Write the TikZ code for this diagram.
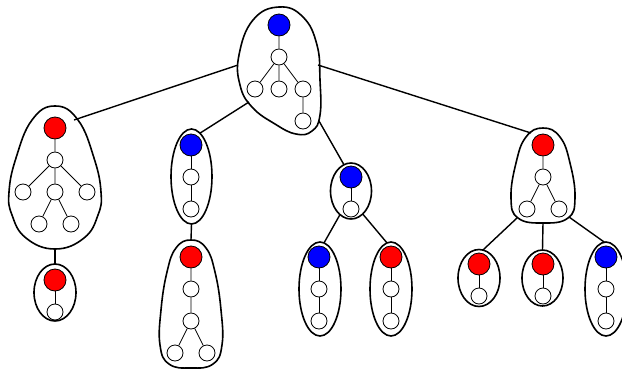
\documentclass[tikz,border=0pt]{standalone}
\usetikzlibrary{shapes.geometric}
\begin{document}
\begin{tikzpicture}[x=1pt,y=-1pt,
  wnode/.style={circle,draw,line width=0.8pt,minimum size=16pt,inner sep=0pt,fill=white},
  rnode/.style={circle,draw,line width=0.8pt,minimum size=22pt,inner sep=0pt,fill=red},
  bnode/.style={circle,draw,line width=0.8pt,minimum size=22pt,inner sep=0pt,fill=blue},
  blob/.style={draw,line width=1.6pt},
  oval/.style={ellipse,draw,line width=1.6pt,inner sep=0pt,outer sep=0pt},
  link/.style={line width=1.4pt},
  twig/.style={line width=0.8pt}]
\useasboundingbox (0,0) rectangle (622,370);
\clip (0,0) rectangle (622,370);

% blobs
\draw[blob] plot[smooth cycle,tension=0.75] coordinates {(279,7) (303,17) (317,45) (320,80) (320,115) (312,131) (296,134) (275,124) (252,107) (240,85) (239,55) (253,20)};
\draw[blob] plot[smooth cycle,tension=0.75] coordinates {(55,106) (78,120) (94,158) (101,192) (98,215) (84,238) (55,249) (26,238) (12,215) (9,192) (16,158) (32,120)};
\draw[blob] plot[smooth cycle,tension=0.75] coordinates {(191,240) (206,248) (215,272) (221,310) (222,345) (213,364) (191,368) (169,364) (160,345) (161,310) (167,272) (176,248)};
\draw[blob] plot[smooth cycle,tension=0.75] coordinates {(543,128) (560,137) (570,163) (575,198) (568,218) (543,223) (518,218) (511,198) (516,163) (526,137)};

\coordinate (ta) at (238,65);
\coordinate (tb) at (249,102);
\coordinate (tc) at (319,121);
\coordinate (td) at (318,65);
\coordinate (la) at (74,120);
\coordinate (lb) at (55,249);
\coordinate (ma) at (191,240);
\coordinate (ra) at (531,133);
\coordinate (rb) at (517,218);
\coordinate (rc) at (543,223);
\coordinate (rd) at (569,217);

% ellipses
\node[oval,minimum width=42pt,minimum height=57pt] (E1) at (55,292.5) {};
\node[oval,minimum width=41pt,minimum height=95pt] (E2) at (191.5,176.5) {};
\node[oval,minimum width=41pt,minimum height=56pt] (E3) at (351,191) {};
\node[oval,minimum width=42pt,minimum height=94pt] (E4) at (320,289) {};
\node[oval,minimum width=42pt,minimum height=94pt] (E5) at (391,289) {};
\node[oval,minimum width=42pt,minimum height=57pt] (E6) at (479,278) {};
\node[oval,minimum width=41pt,minimum height=56pt] (E7) at (542.5,278) {};
\node[oval,minimum width=42pt,minimum height=94pt] (E8) at (606,289) {};

% links between groups
\draw[link] (ta) -- (la);
\draw[link] (tb) -- (E2.79);
\draw[link] (tc) -- (E3.105);
\draw[link] (td) -- (ra);
\draw[link] (lb) -- (E1.north);
\draw[link] (E2.south) -- (ma);
\draw[link] (E3.245) -- (E4.85);
\draw[link] (E3.297) -- (E5.95);
\draw[link] (rb) -- (E6.82);
\draw[link] (rc) -- (E7.north);
\draw[link] (rd) -- (E8.92);

% top group
\node[bnode] (t0) at (279,25) {};
\node[wnode] (t1) at (279,57) {};
\node[wnode] (t2) at (255,89) {};
\node[wnode] (t3) at (279,89) {};
\node[wnode] (t4) at (303,89) {};
\node[wnode] (t5) at (303,121) {};
\draw[twig] (t0)--(t1) (t1)--(t2) (t1)--(t3) (t1)--(t4) (t4)--(t5);

% left group
\node[rnode] (l0) at (55,128) {};
\node[wnode] (l1) at (55,160) {};
\node[wnode] (l2) at (23,192) {};
\node[wnode] (l3) at (55,192) {};
\node[wnode] (l4) at (87,192) {};
\node[wnode] (l5) at (39,224) {};
\node[wnode] (l6) at (71,224) {};
\draw[twig] (l0)--(l1) (l1)--(l2) (l1)--(l3) (l1)--(l4) (l3)--(l5) (l3)--(l6);

% E1
\node[rnode] (a0) at (55,280) {};
\node[wnode] (a1) at (55,312) {};
\draw[twig] (a0)--(a1);

% E2
\node[bnode] (b0) at (191,145) {};
\node[wnode] (b1) at (191,177) {};
\node[wnode] (b2) at (191,209) {};
\draw[twig] (b0)--(b1) (b1)--(b2);

% lower middle-left group
\node[rnode] (m0) at (191,257) {};
\node[wnode] (m1) at (191,289) {};
\node[wnode] (m2) at (191,321) {};
\node[wnode] (m3) at (175,353) {};
\node[wnode] (m4) at (207,353) {};
\draw[twig] (m0)--(m1) (m1)--(m2) (m2)--(m3) (m2)--(m4);

% E3
\node[bnode] (c0) at (351,177) {};
\node[wnode] (c1) at (351,209) {};
\draw[twig] (c0)--(c1);

% E4
\node[bnode] (d0) at (319,257) {};
\node[wnode] (d1) at (319,289) {};
\node[wnode] (d2) at (319,321) {};
\draw[twig] (d0)--(d1) (d1)--(d2);

% E5
\node[rnode] (e0) at (391,257) {};
\node[wnode] (e1) at (391,289) {};
\node[wnode] (e2) at (391,321) {};
\draw[twig] (e0)--(e1) (e1)--(e2);

% right group
\node[rnode] (r0) at (543,145) {};
\node[wnode] (r1) at (543,177) {};
\node[wnode] (r2) at (527,209) {};
\node[wnode] (r3) at (559,209) {};
\draw[twig] (r0)--(r1) (r1)--(r2) (r1)--(r3);

% E6
\node[rnode] (f0) at (479,264) {};
\node[wnode] (f1) at (479,296) {};
\draw[twig] (f0)--(f1);

% E7
\node[rnode] (g0) at (543,264) {};
\node[wnode] (g1) at (543,296) {};
\draw[twig] (g0)--(g1);

% E8
\node[bnode] (h0) at (606,257) {};
\node[wnode] (h1) at (606,289) {};
\node[wnode] (h2) at (606,321) {};
\draw[twig] (h0)--(h1) (h1)--(h2);
\end{tikzpicture}
\end{document}
